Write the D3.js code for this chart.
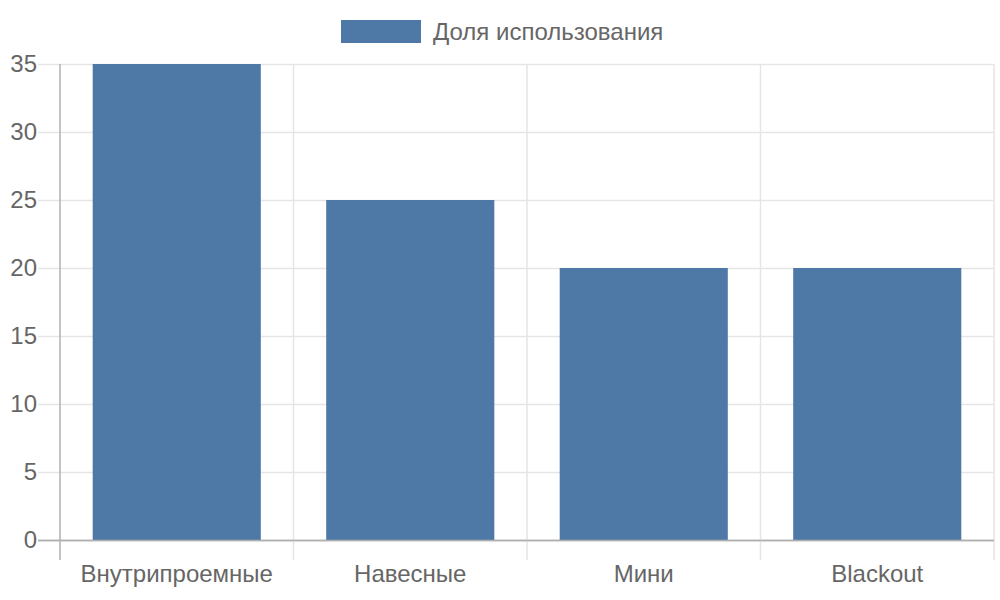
<!DOCTYPE html>
<html>
<head>
<meta charset="utf-8">
<script src="https://cdn.jsdelivr.net/npm/d3@7"></script>
<style>
  body { margin: 0; background: #fff; }
  text { font-family: "Liberation Sans", Arial, sans-serif; fill: #666; }
</style>
</head>
<body>
<div id="viz"></div>
<script>
// data
let categories = ['Внутрипроемные', 'Навесные', 'Мини', 'Blackout']
let values = [35, 25, 20, 20]
let seriesName = 'Доля использования'
let yTicks = [0, 5, 10, 15, 20, 25, 30, 35]

let width = 1000, height = 600
let margin = {top: 64, right: 6, bottom: 60, left: 60}
let barColor = '#4e79a7'
let fontSize = '24px'

let svg = d3.select('#viz')
			.append('svg')
			.attr('width', width)
			.attr('height', height)

let x = d3.scaleBand()
			.domain(categories)
			.range([margin.left, width - margin.right])
			.paddingInner(0)
			.paddingOuter(0)

let y = d3.scaleLinear()
			.domain([0, 35])
			.range([height - margin.bottom, margin.top])

let bottom = height - margin.bottom

// horizontal grid + tick marks
svg.append('g')
	.selectAll('line')
	.data(yTicks)
	.enter()
	.append('line')
	.attr('x1', margin.left - 22)
	.attr('x2', width - margin.right)
	.attr('y1', d => y(d) + 0.5)
	.attr('y2', d => y(d) + 0.5)
	.attr('stroke', d => d === 0 ? '#b0b0b0' : '#e5e5e5')
	.attr('stroke-width', 1.5)

// vertical grid lines at category borders
let borders = categories.map(c => x(c)).concat([x.range()[1]])
svg.append('g')
	.selectAll('line')
	.data(borders)
	.enter()
	.append('line')
	.attr('x1', d => d)
	.attr('x2', d => d)
	.attr('y1', margin.top)
	.attr('y2', bottom + 20)
	.attr('stroke', (d, i) => i === 0 ? '#b0b0b0' : '#e5e5e5')
	.attr('stroke-width', 1.5)

// bars (chart.js style: 0.9 * 0.8 of category)
let barW = x.bandwidth() * 0.72
svg.append('g')
	.selectAll('rect')
	.data(values)
	.enter()
	.append('rect')
	.attr('x', (d, i) => x(categories[i]) + (x.bandwidth() - barW) / 2)
	.attr('y', d => y(d))
	.attr('width', barW)
	.attr('height', d => bottom - y(d))
	.attr('fill', barColor)

// redraw zero line above bars
svg.append('line')
	.attr('x1', margin.left - 22)
	.attr('x2', width - margin.right)
	.attr('y1', bottom + 0.5)
	.attr('y2', bottom + 0.5)
	.attr('stroke', '#b0b0b0')
	.attr('stroke-width', 1.5)

// y tick labels
svg.append('g')
	.selectAll('text')
	.data(yTicks)
	.enter()
	.append('text')
	.attr('x', margin.left - 23)
	.attr('y', d => y(d))
	.attr('dy', '0.35em')
	.attr('text-anchor', 'end')
	.style('font-size', fontSize)
	.text(d => d)

// x tick labels
svg.append('g')
	.selectAll('text')
	.data(categories)
	.enter()
	.append('text')
	.attr('x', d => x(d) + x.bandwidth() / 2)
	.attr('y', 582)
	.attr('text-anchor', 'middle')
	.style('font-size', fontSize)
	.text(d => d)

// legend
let legend = svg.append('g')
legend.append('rect')
	.attr('x', 341)
	.attr('y', 20)
	.attr('width', 80)
	.attr('height', 23)
	.attr('fill', barColor)
legend.append('text')
	.attr('x', 433)
	.attr('y', 40)
	.style('font-size', fontSize)
	.text(seriesName)
</script>
</body>
</html>
